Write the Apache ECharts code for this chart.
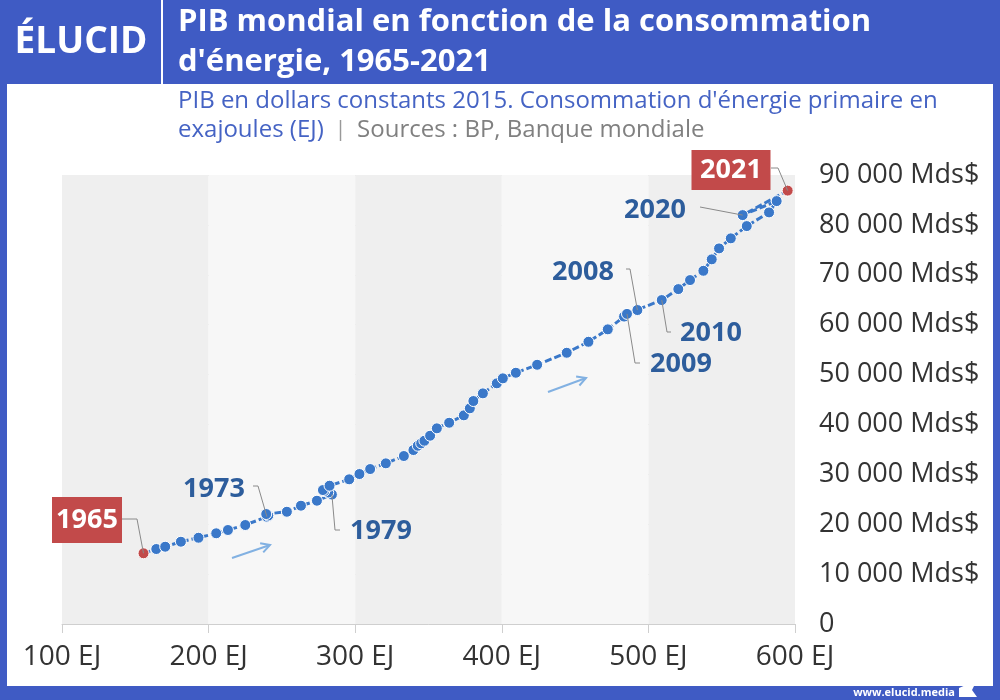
<!DOCTYPE html>
<html><head><meta charset="utf-8">
<script src="https://cdn.jsdelivr.net/npm/echarts/dist/echarts.min.js"></script>
<style>html,body{margin:0;padding:0;background:#fff}#c{width:1000px;height:700px}</style>
</head><body><div id="c"></div>
<script>
// ---- Data ----
const years = [1965,1966,1967,1968,1969,1970,1971,1972,1973,1974,1975,1976,1977,1978,1979,1980,1981,1982,1983,1984,1985,1986,1987,1988,1989,1990,1991,1992,1993,1994,1995,1996,1997,1998,1999,2000,2001,2002,2003,2004,2005,2006,2007,2008,2009,2010,2011,2012,2013,2014,2015,2016,2017,2018,2019,2020,2021];
const energyEJ = [155.6,164.3,170.4,181.1,193.1,205.2,213.2,225.0,239.8,240.7,
                  239.3,253.4,263.0,273.9,284.1,281.6,278.9,278.0,282.5,295.9,
                  302.9,310.2,320.9,333.2,339.7,342.7,345.0,347.2,351.1,355.7,
                  364.1,374.1,378.2,380.6,387.1,396.6,400.7,409.6,424.1,444.3,
                  459.1,472.3,483.4,492.5,485.4,509.1,520.4,528.4,537.5,543.2,
                  548.2,556.2,567.1,582.3,587.5,564.3,595.0];
const gdpMds = [14170,15030,15490,16490,17290,18180,18840,19840,21500,21740,
                22040,22500,23710,24710,25950,26350,26650,26850,27720,29000,
                30060,31060,32200,33670,34870,35730,36210,36730,37740,39220,
                40340,41820,43230,44690,46230,48240,49240,50360,51960,54370,
                56570,59060,61620,62930,62160,64930,67130,68940,70800,73090,
                75290,77300,79760,82500,84770,81960,86870];
const xTicks = [100,200,300,400,500,600];
const yTicks = [0,10000,20000,30000,40000,50000,60000,70000,80000,90000];
const highlightYears = [1965, 2021];
const labelledYears = [1965,1973,1979,2008,2009,2010,2020,2021];

const FONT = "'Open Sans', sans-serif";
const BLUE_FRAME = '#3f5bc4';
const PT = '#3a78c9';
const RED = '#c24a4a';
const LBL = '#2d5d9c';

function fmtThousands(v){ return String(v).replace(/\B(?=(\d{3})+(?!\d))/g, ' '); }

const seriesData = years.map((y,i)=>{
  const d = {value:[energyEJ[i], gdpMds[i]], name:String(y)};
  if (highlightYears.includes(y)) d.itemStyle = {color: RED, borderColor:'#fff', borderWidth:1};
  return d;
});

const chart = echarts.init(document.getElementById('c'), null, {renderer:'canvas'});
chart.setOption({
  animation:false,
  backgroundColor:'#fff',
  textStyle:{fontFamily:FONT},
  grid:{left:62, right:205, top:175, bottom:76, containLabel:false},
  xAxis:{
    type:'value', min:xTicks[0], max:xTicks[xTicks.length-1], interval:100,
    axisLine:{show:true, lineStyle:{color:'#cfcfcf', width:1}},
    axisTick:{show:true, length:9, lineStyle:{color:'#cfcfcf'}},
    axisLabel:{fontSize:28, color:'#333', margin:19, fontFamily:FONT, formatter:v=>v+' EJ'},
    splitLine:{show:false},
    splitArea:{show:true, areaStyle:{color:['#efefef','#f7f7f7']}}
  },
  yAxis:{
    type:'value', position:'right', min:yTicks[0], max:yTicks[yTicks.length-1], interval:10000,
    axisLine:{show:false}, axisTick:{show:false},
    axisLabel:{fontSize:27, color:'#333', margin:24, fontFamily:FONT,
      formatter:v=> v===0 ? '0' : fmtThousands(v)+' Mds$'},
    splitLine:{show:true, lineStyle:{color:'#e2e2e2', width:1}}
  },
  series:[{
    type:'line', data:seriesData, z:5,
    symbol:'circle', symbolSize:11,
    itemStyle:{color:PT, borderColor:'#fff', borderWidth:1},
    lineStyle:{color:PT, width:3, type:[7,3]}
  }]
});

// ---- annotations (layout only; point ends come from the data via the axes) ----
const annLayout = {
  1965:{box:true, cx:87, cy:520, w:70, h:46, path:[[122,519],[137,519]]},
  1973:{cx:214, cy:489, path:[[253,486],[258,486]]},
  1979:{cx:381, cy:531, path:[[340,530],[335,530]]},
  2008:{cx:583, cy:272, path:[[626,269],[630,269]]},
  2009:{cx:681, cy:364, path:[[640,363],[635,363]]},
  2010:{cx:711, cy:333, path:[[671,332],[667,332]]},
  2020:{cx:655, cy:210, path:[[700,207]]},
  2021:{box:true, cx:731, cy:170, w:79, h:40, path:[[771,168],[778,168]]}
};

const g = [];
// frame
g.push({type:'rect', shape:{x:0,y:0,width:1000,height:84}, style:{fill:BLUE_FRAME}, z:100});
g.push({type:'rect', shape:{x:0,y:0,width:7,height:700}, style:{fill:BLUE_FRAME}, z:100});
g.push({type:'rect', shape:{x:993,y:0,width:7,height:700}, style:{fill:BLUE_FRAME}, z:100});
g.push({type:'rect', shape:{x:0,y:686,width:1000,height:14}, style:{fill:BLUE_FRAME}, z:100});
g.push({type:'line', shape:{x1:162,y1:0,x2:162,y2:84}, style:{stroke:'#ffffff', lineWidth:2}, z:101});
g.push({type:'text', x:81, y:42, style:{text:'ÉLUCID', fill:'#fff', font:"bold 37px "+FONT, align:'center', verticalAlign:'middle'}, z:101});
g.push({type:'text', x:178, y:22, style:{text:'PIB mondial en fonction de la consommation', fill:'#fff', font:"bold 31px "+FONT, verticalAlign:'middle'}, z:101});
g.push({type:'text', x:178, y:62, style:{text:"d'énergie, 1965-2021", fill:'#fff', font:"bold 31px "+FONT, verticalAlign:'middle'}, z:101});
g.push({type:'text', x:178, y:101, style:{text:"PIB en dollars constants 2015. Consommation d'énergie primaire en", fill:'#4563c4', font:"24px "+FONT, verticalAlign:'middle'}, z:101});
g.push({type:'text', x:178, y:130, style:{
  rich:{b:{fill:'#4563c4', font:"24px "+FONT}, s:{fill:'#999', font:"21px "+FONT}, g:{fill:'#808080', font:"24px "+FONT}},
  text:'{b|exajoules (EJ)}{s|  |  }{g|Sources : BP, Banque mondiale}', verticalAlign:'middle'}, z:101});
g.push({type:'text', x:955, y:693, style:{text:'www.elucid.media', fill:'#fff', font:"bold 11px "+FONT, align:'right', verticalAlign:'middle'}, z:101});
g.push({type:'polygon', shape:{points:[[959,688],[977,680],[972,690],[977,697],[959,697]]}, style:{fill:'#fff'}, z:101});

// arrows
function arrow(x1,y1,x2,y2){
  const ang = Math.atan2(y2-y1, x2-x1), L=10, a=0.5;
  g.push({type:'line', shape:{x1,y1,x2,y2}, style:{stroke:'#82b1e2', lineWidth:2}, z:20});
  g.push({type:'polyline', shape:{points:[[x2-L*Math.cos(ang-a), y2-L*Math.sin(ang-a)],[x2,y2],[x2-L*Math.cos(ang+a), y2-L*Math.sin(ang+a)]]}, style:{stroke:'#82b1e2', lineWidth:2, fill:null}, z:20});
}
arrow(232,558,270,545);
arrow(548,392,586,378);

labelledYears.forEach(y=>{
  const i = years.indexOf(y);
  const p = chart.convertToPixel({gridIndex:0}, [energyEJ[i], gdpMds[i]]);
  const a = annLayout[y];
  const pts = a.path.concat([p]);
  g.push({type:'polyline', shape:{points:pts}, style:{stroke:'#8a8a8a', lineWidth:1, fill:null}, z:30});
  if (a.box){
    g.push({type:'rect', shape:{x:a.cx-a.w/2, y:a.cy-a.h/2, width:a.w, height:a.h}, style:{fill:RED}, z:31});
    g.push({type:'text', x:a.cx, y:a.cy, style:{text:String(y), fill:'#fff', font:"bold 27px "+FONT, align:'center', verticalAlign:'middle'}, z:32});
  } else {
    g.push({type:'text', x:a.cx, y:a.cy, style:{text:String(y), fill:LBL, font:"bold 27px "+FONT, align:'center', verticalAlign:'middle'}, z:32});
  }
});

chart.setOption({graphic:g});
</script>
</body></html>
